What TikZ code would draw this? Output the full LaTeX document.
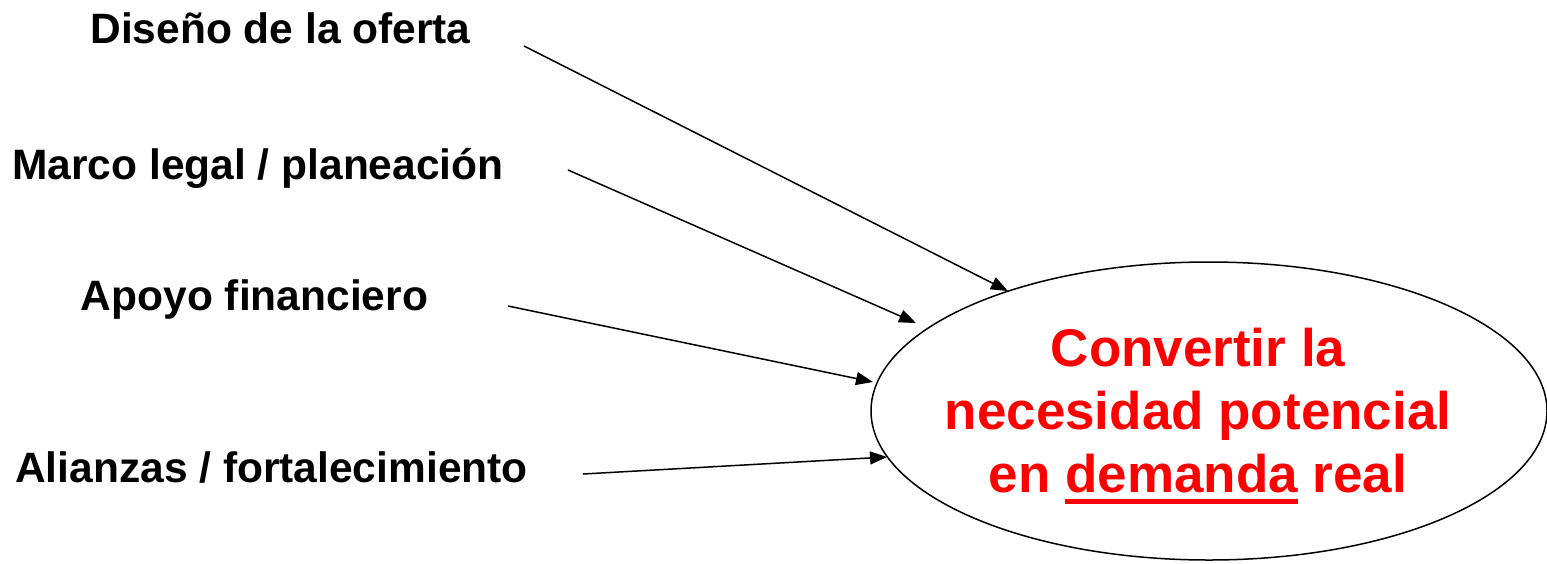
\documentclass[tikz,border=0pt]{standalone}
\usepackage{fontspec}
\setmainfont{Liberation Sans}
\usetikzlibrary{shapes.geometric,arrows.meta}
\newcommand\myuline[1]{\vtop{\hbox{#1}\kern6pt\hrule height 5pt}}
\begin{document}
\begin{tikzpicture}[x=1pt,y=-1pt,
  label/.style={font=\fontsize{42.5}{50}\selectfont\bfseries, anchor=base, inner sep=0pt},
  goaltext/.style={font=\fontsize{53}{63}\selectfont\bfseries, text=red, align=center, inner sep=0pt},
  conn/.style={line width=1.5pt, -{Triangle[length=17pt,width=13pt]}}]
\useasboundingbox (0,0) rectangle (1547,563);
\fill[white] (0,0) rectangle (1547,563);
\node[label] (dis) at (280.5,43) {Diseño de la oferta};
\node[label] (mar) at (258,179.5) {Marco legal / planeación};
\node[label] (apo) at (254.5,310) {Apoyo financiero};
\node[label] (ali) at (271.5,482) {Alianzas / fortalecimiento};
\node[ellipse, draw, line width=1.5pt, minimum width=676pt, minimum height=298pt, inner sep=0pt] (goal) at (1209,411) {};
\node[goaltext] (gt) at (1198,416) {Convertir la\\necesidad potencial\\en \myuline{demanda} real};
\coordinate (s1) at (524,46);
\coordinate (e1) at (1008,291);
\coordinate (s2) at (568,170);
\coordinate (e2) at (916,323);
\coordinate (s3) at (508,306);
\coordinate (e3) at (873,382);
\coordinate (s4) at (583,474);
\coordinate (e4) at (887,457);
\draw[conn] (s1) -- (e1);
\draw[conn] (s2) -- (e2);
\draw[conn] (s3) -- (e3);
\draw[conn] (s4) -- (e4);
\end{tikzpicture}
\end{document}
